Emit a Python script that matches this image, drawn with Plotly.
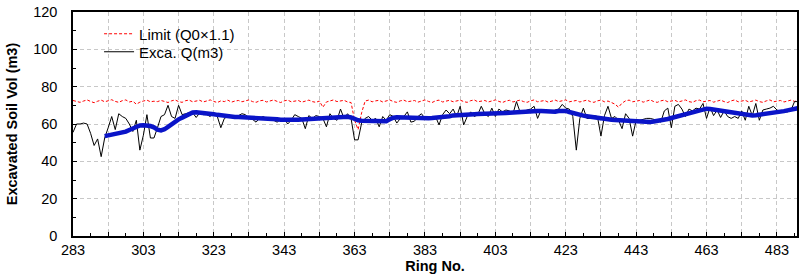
import plotly.graph_objects as go

# Ring numbers (x)
rings = list(range(283, 490))
avg_rings = list(range(292, 490))

# Excavated quantity Q (m3), rings 283-489
exca_q = [
    55.5, 60, 60, 60.5, 60, 55, 48.5, 52, 42.5, 52.5,
    58, 64, 57, 65.5, 64, 63, 60, 56, 62, 46,
    54, 65, 52.5, 52.5, 58, 64, 65, 70, 64, 63,
    70, 65, 65.5, 66, 66, 63.5, 66, 65, 65, 64,
    66, 64, 58, 63, 64, 63.5, 63, 64.5, 65.5, 65,
    63, 62.5, 61, 63, 64, 63, 62.5, 62, 61, 62.5,
    63, 60, 62, 65, 64, 63, 57.5, 64.5, 63, 64.5,
    64, 63, 58.5, 65.5, 63, 62, 68, 63, 65.5, 63,
    51.5, 51.5, 60.5, 63, 64, 62, 63, 58.5, 64, 62,
    65, 64, 60.5, 63, 64, 66.5, 61, 61.5, 64, 65.5,
    63, 64, 63, 64, 59.5, 65, 67.5, 65.5, 68, 64,
    69.5, 59.5, 64, 66.5, 64, 65, 69.5, 65.5, 64, 68.5,
    64, 68, 66.5, 67.5, 67, 65.5, 72, 66.5, 66.5, 67.5,
    68, 69.5, 63, 67.5, 66.5, 66.5, 66.5, 67.5, 68, 70.5,
    68.5, 68, 64, 46, 63, 68.5, 63, 63, 64.5, 64,
    53.5, 64.5, 69.5, 63, 64, 62, 57.5, 65.5, 63, 53.5,
    62, 62, 62.5, 63, 63, 62.5, 62, 61, 67, 68.5,
    58, 69.5, 70.5, 68, 64, 68, 67, 68.5, 68, 71,
    63, 69, 64.5, 67.5, 63.5, 67, 64, 63, 64, 63,
    67, 62, 69.5, 64.5, 71, 62, 67.5, 68, 68.5, 69.5,
    67.5, 66.5, 66.5, 66.5, 67.5, 72, 72,
]

# Limit (Q0 x 1.1), rings 283-489
limit_q = [
    72.6, 72.0, 71.6, 72.3, 72.9, 72.1, 71.4, 72.2, 72.8, 71.9,
    72.4, 73.0, 72.1, 71.6, 72.5, 72.9, 71.8, 72.2, 70.6, 71.7,
    72.3, 72.8, 71.9, 72.2, 72.0, 72.6, 72.1, 71.5, 72.4, 72.9,
    72.0, 71.6, 72.5, 72.8, 71.9, 72.3, 72.7, 71.8, 72.2, 72.9,
    72.1, 71.5, 72.4, 72.0, 72.8, 71.7, 72.3, 72.6, 71.9, 72.5,
    72.9, 72.0, 71.6, 72.4, 72.7, 71.8, 72.2, 72.9, 72.1, 71.5,
    72.4, 72.8, 71.9, 72.3, 72.6, 71.7, 72.2, 72.8, 72.0, 71.6,
    72.3, 69.0, 71.8, 72.5, 72.9, 72.0, 72.4, 72.7, 71.8, 71.5,
    62.0, 57.0, 66.0, 72.3, 72.8, 71.9, 72.4, 72.7, 71.8, 72.2,
    72.9, 72.0, 71.6, 72.4, 72.8, 71.9, 72.3, 72.6, 71.7, 72.2,
    72.9, 72.1, 71.5, 72.4, 72.8, 71.8, 72.3, 72.7, 71.9, 72.2,
    72.8, 72.0, 71.6, 72.5, 72.9, 71.9, 72.3, 72.6, 71.8, 72.4,
    72.9, 72.1, 71.5, 72.3, 72.7, 71.8, 72.2, 72.8, 72.0, 71.6,
    72.4, 72.9, 71.9, 72.3, 72.6, 71.7, 72.2, 72.8, 72.0, 72.5,
    72.9, 71.9, 72.3, 72.6, 71.8, 72.2, 72.8, 72.0, 71.6, 72.4,
    72.8, 71.9, 72.3, 71.5, 70.6, 69.0, 71.2, 72.4, 72.8, 71.9,
    72.3, 72.6, 71.7, 72.2, 72.9, 72.0, 71.6, 72.4, 72.8, 71.9,
    72.3, 72.7, 71.8, 72.2, 72.9, 72.0, 71.6, 72.5, 72.8, 71.9,
    72.3, 72.6, 71.7, 72.2, 72.8, 72.0, 71.5, 72.4, 72.9, 71.9,
    72.3, 72.7, 71.8, 72.2, 72.8, 72.0, 71.6, 72.4, 72.9, 71.9,
    72.3, 72.6, 71.8, 72.2, 72.8, 72.1, 72.5,
]

# Moving-average trend (thick blue), rings 292-489
trend_q = [
    53.5, 53.8, 54.1, 54.5, 55.0, 55.4, 55.9, 56.8, 57.8, 58.8,
    59.2, 59.3, 59.2, 58.9, 58.2, 57.0, 56.6, 57.2, 58.5, 60.0,
    61.3, 62.5, 63.4, 64.5, 65.7, 66.2, 66.3, 66.2, 66.0, 65.8,
    65.5, 65.2, 64.9, 64.6, 64.4, 64.1, 63.9, 63.8, 63.8, 63.7,
    63.7, 63.6, 63.6, 63.6, 63.5, 63.4, 63.2, 62.9, 62.7, 62.5,
    62.3, 62.2, 62.1, 62.1, 62.2, 62.3, 62.4, 62.5, 62.7, 62.9,
    63.1, 63.2, 63.3, 63.4, 63.6, 63.8, 64.0, 64.0, 64.0, 63.9,
    63.5, 62.6, 62.0, 61.8, 61.7, 61.6, 61.6, 61.5, 61.5, 61.4,
    61.5, 62.5, 63.4, 63.6, 63.5, 63.4, 63.3, 63.2, 63.2, 63.1,
    63.1, 63.1, 63.1, 63.2, 63.3, 63.5, 63.7, 63.9, 64.2, 64.6,
    64.8, 64.9, 64.9, 65.0, 65.1, 65.2, 65.3, 65.3, 65.4, 65.5,
    65.6, 65.7, 65.8, 65.8, 65.9, 66.0, 66.2, 66.4, 66.6, 66.8,
    67.0, 67.1, 67.1, 67.0, 66.9, 66.7, 66.5, 66.4, 66.6, 66.9,
    67.1, 67.0, 66.4, 65.8, 65.2, 64.8, 64.5, 64.2, 63.9, 63.6,
    63.2, 62.8, 62.4, 62.4, 62.3, 62.2, 62.1, 62.0, 61.9, 61.8,
    61.6, 61.3, 61.0, 60.8, 60.9, 61.1, 61.3, 61.5, 61.8, 62.2,
    62.7, 63.2, 63.7, 64.2, 64.7, 65.2, 65.7, 66.2, 66.7, 67.3,
    67.8, 68.2, 68.0, 67.7, 67.5, 67.3, 67.1, 66.8, 66.4, 65.9,
    65.4, 65.0, 64.7, 64.6, 64.6, 64.7, 64.9, 65.1, 65.3, 65.5,
    65.8, 66.1, 66.5, 66.9, 67.3, 67.7, 68.1, 68.5,
]

x_tickvals = list(range(283, 490, 10))
x_ticktext = [str(v) if (v - 283) % 20 == 0 else "" for v in x_tickvals]

FONT = "Liberation Sans, Arial, sans-serif"

fig = go.Figure()
fig.add_trace(go.Scatter(
    x=rings, y=limit_q, mode="lines", name="Limit (Q0\u00d71.1)",
    line=dict(color="#ff0000", width=1, dash="3px,2px"), legend="legend",
))
fig.add_trace(go.Scatter(
    x=rings, y=exca_q, mode="lines", name="Exca. Q(m3)",
    line=dict(color="#000000", width=1), legend="legend2",
))
fig.add_trace(go.Scatter(
    x=avg_rings, y=trend_q, mode="lines", name="trend", showlegend=False,
    line=dict(color="#0a14c8", width=4.5),
))

leg_common = dict(xanchor="left", yanchor="middle", bgcolor="rgba(0,0,0,0)",
                  font=dict(size=15), borderwidth=0)

fig.update_layout(
    width=799, height=275,
    margin=dict(l=73, r=2, t=12, b=39),
    paper_bgcolor="white", plot_bgcolor="white",
    font=dict(family=FONT, size=14, color="#000000"),
    showlegend=True,
    legend=dict(x=0.036, y=1 - (34 - 12) / 224, **leg_common),
    legend2=dict(x=0.036, y=1 - (52 - 12) / 224, **leg_common),
    xaxis=dict(
        range=[283, 488.7], automargin=False,
        tickmode="array", tickvals=x_tickvals, ticktext=x_ticktext,
        ticks="inside", ticklen=4, tickcolor="#000",
        showline=True, linecolor="#000", linewidth=1.5, mirror=True,
        showgrid=True, gridcolor="#c8c8c8", griddash="4px,3px", gridwidth=1,
        zeroline=False,
        minor=dict(dtick=5, tick0=283, ticks="inside", ticklen=3, tickcolor="#000", showgrid=False),
        title=dict(text="<b>Ring No.</b>", font=dict(size=14.5), standoff=0),
        tickfont=dict(size=14.5),
    ),
    yaxis=dict(
        range=[0, 120], dtick=20, tick0=0, automargin=False,
        ticks="inside", ticklen=4, tickcolor="#000",
        showline=True, linecolor="#000", linewidth=1.5, mirror=True,
        showgrid=True, gridcolor="#c8c8c8", griddash="4px,3px", gridwidth=1,
        zeroline=False,
        minor=dict(dtick=10, ticks="inside", ticklen=3, tickcolor="#000", showgrid=False),
        title=dict(text="<b>Excavated Soil Vol (m3)</b>", font=dict(size=14.5), standoff=12),
        tickfont=dict(size=14.5),
        ticklabelstandoff=11,
    ),
)

fig.write_html("out.html", config={"displayModeBar": False},
               post_script="document.body.style.margin='0px';")
